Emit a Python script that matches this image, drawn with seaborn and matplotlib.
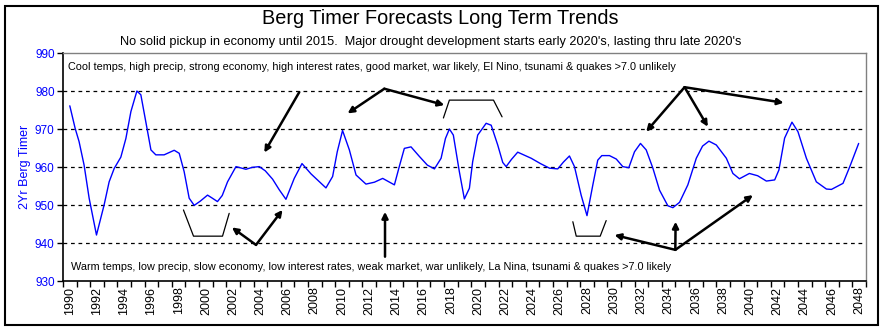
import numpy as np
import pandas as pd
import matplotlib
matplotlib.use("Agg")
import matplotlib.pyplot as plt
import seaborn as sns
from matplotlib.patches import Rectangle

# ---------------- data ----------------
years = [1990.00, 1990.39, 1990.68, 1991.05, 1991.42, 1991.96, 1992.52, 1992.89, 1993.26, 1993.75,
         1994.12, 1994.49, 1994.93, 1995.22, 1995.63, 1995.96, 1996.32, 1996.93, 1997.67, 1998.04,
         1998.40, 1998.77, 1999.14, 1999.58, 2000.12, 2000.47, 2000.85, 2001.20, 2001.59, 2002.21,
         2002.94, 2003.40, 2003.92, 2004.36, 2004.90, 2005.39, 2005.88, 2006.49, 2007.06, 2007.72,
         2008.82, 2009.31, 2009.65, 2010.04, 2010.54, 2011.03, 2011.76, 2012.38, 2012.99, 2013.85,
         2014.20, 2014.58, 2015.07, 2015.68, 2016.27, 2016.79, 2017.28, 2017.60, 2017.89, 2018.18,
         2018.62, 2018.99, 2019.36, 2019.60, 2019.97, 2020.59, 2020.96, 2021.44, 2021.81, 2022.06,
         2022.45, 2022.91, 2023.90, 2024.58, 2025.24, 2025.85, 2026.27, 2026.71, 2027.08, 2027.57,
         2028.00, 2028.43, 2028.79, 2029.09, 2029.65, 2030.15, 2030.63, 2031.07, 2031.49, 2031.93,
         2032.35, 2032.84, 2033.33, 2033.94, 2034.31, 2034.80, 2035.41, 2036.03, 2036.49, 2036.96,
         2037.50, 2038.24, 2038.72, 2039.20, 2039.93, 2040.54, 2041.18, 2041.79, 2042.10, 2042.52,
         2043.06, 2043.50, 2044.12, 2044.85, 2045.59, 2045.96, 2046.81, 2047.31, 2047.96]
timer = [976.1, 970.2, 966.7, 960.5, 951.8, 942.1, 950.0, 956.1, 959.6, 962.6,
         967.5, 974.6, 980.0, 979.0, 971.0, 964.5, 963.2, 963.2, 964.4, 963.6,
         958.8, 951.8, 949.9, 951.0, 952.6, 951.8, 950.9, 952.5, 956.1, 960.1,
         959.4, 959.9, 960.1, 959.0, 956.8, 954.0, 951.5, 957.0, 960.9, 958.2,
         954.5, 957.5, 964.0, 969.6, 964.5, 957.9, 955.5, 956.0, 957.0, 955.3,
         960.0, 964.9, 965.3, 962.8, 960.5, 959.5, 962.3, 967.5, 970.0, 968.4,
         958.8, 951.6, 954.4, 961.4, 968.4, 971.5, 971.0, 965.8, 961.2, 960.1,
         962.0, 963.9, 962.3, 960.9, 959.7, 959.5, 961.3, 962.9, 960.1, 952.6,
         947.2, 955.3, 961.8, 963.0, 963.0, 962.1, 960.1, 959.8, 964.0, 966.2,
         964.5, 959.7, 953.9, 949.8, 949.3, 950.7, 955.3, 962.3, 965.5, 966.8,
         965.8, 962.3, 958.3, 956.9, 958.3, 957.7, 956.3, 956.6, 959.2, 967.6,
         971.8, 969.3, 962.3, 956.1, 954.2, 954.1, 955.7, 960.1, 966.2]
year_labels = list(range(1990, 2049, 2))
y_ticks = [930, 940, 950, 960, 970, 980, 990]
grid_levels = [940, 950, 960, 970, 980]

title = "Berg Timer Forecasts Long Term Trends"
subtitle = ("No solid pickup in economy until 2015.  Major drought development starts early "
            "2020's, lasting thru late 2020's")
top_note = ("Cool temps, high precip, strong economy, high interest rates, good market, war likely, "
            "El Nino, tsunami & quakes >7.0 unlikely")
bottom_note = ("Warm temps, low precip, slow economy, low interest rates, weak market, war unlikely, "
               "La Nina, tsunami & quakes >7.0 likely")

df = pd.DataFrame({"year": years, "timer": timer})

# ---------------- style ----------------
sns.set_theme(style="white")
plt.rcParams["font.family"] = ["Liberation Sans", "DejaVu Sans"]

fig = plt.figure(figsize=(8.84, 3.31), dpi=100)
ax = fig.add_axes([63 / 884, 1 - 281 / 331, 803 / 884, 228 / 331])

for g in grid_levels:
    ax.axhline(g, color="black", lw=0.9, ls=(0, (3, 3)), zorder=1)

sns.lineplot(data=df, x="year", y="timer", ax=ax, color="#0000ff", lw=1.0, zorder=3)

ax.set_xlim(1989.5, 2048.5)
ax.set_ylim(930, 990)
ax.set_yticks(y_ticks)
ax.set_yticklabels([str(v) for v in y_ticks], color="#0000ff", fontsize=8.5)
ax.set_xticks(year_labels)
ax.set_xticklabels([str(v) for v in year_labels], rotation=90, fontsize=9, color="black")
ax.set_xticks(np.arange(1989.5, 2049.0, 1.0), minor=True)
ax.tick_params(axis="x", which="major", length=0, pad=4)
ax.tick_params(axis="x", which="minor", length=4, width=1, color="black", direction="out", bottom=True)
ax.tick_params(axis="y", which="major", length=4, width=1, color="black", direction="out", left=True, pad=2)
ax.set_xlabel("")
ax.set_ylabel("2Yr Berg Timer", color="#0000ff", fontsize=9)
ax.yaxis.set_label_coords(-0.040, 0.5)

for s in ["left", "bottom"]:
    ax.spines[s].set_color("black")
    ax.spines[s].set_linewidth(1.2)
for s in ["top", "right"]:
    ax.spines[s].set_color("#808080")
    ax.spines[s].set_linewidth(1.0)

# ---------------- annotations ----------------
arrows = [
    ((2006.86, 979.7), (2004.29, 963.8)),
    ((2013.11, 980.6), (2010.41, 974.1)),
    ((2013.11, 980.6), (2017.52, 976.3)),
    ((2035.17, 981.0), (2032.35, 969.3)),
    ((2035.17, 981.0), (2036.88, 970.6)),
    ((2035.17, 981.0), (2042.45, 976.9)),
    ((2003.68, 939.5), (2001.91, 944.1)),
    ((2003.68, 939.5), (2005.63, 948.7)),
    ((2013.16, 936.4), (2013.16, 948.2)),
    ((2034.49, 938.2), (2030.02, 942.1)),
    ((2034.49, 938.2), (2034.51, 945.6)),
    ((2034.49, 938.2), (2040.19, 952.6)),
]
for start, end in arrows:
    ax.annotate("", xy=end, xytext=start,
                arrowprops=dict(arrowstyle="-|>", lw=1.8, color="black",
                                mutation_scale=9, shrinkA=0, shrinkB=0),
                zorder=4)

brackets = [
    [(2017.45, 972.9), (2017.89, 977.6), (2021.13, 977.6), (2021.76, 973.2)],
    [(1998.35, 948.7), (1999.09, 941.8), (2001.22, 941.8), (2001.71, 947.8)],
    [(2026.96, 945.6), (2027.21, 941.8), (2028.97, 941.8), (2029.41, 945.9)],
]
for br in brackets:
    bx, by = zip(*br)
    ax.plot(bx, by, color="black", lw=0.9, zorder=4)

ax.text(1989.9, 986.4, top_note, fontsize=7.8, ha="left", va="center", color="black")
ax.text(1990.1, 933.6, bottom_note, fontsize=7.85, ha="left", va="center", color="black")

fig.text(440 / 884, 1 - 19 / 331, title, ha="center", va="center", fontsize=14.3, color="black")
fig.text(431 / 884, 1 - 42 / 331, subtitle, ha="center", va="center", fontsize=9.2, color="black")

fig.patches.append(Rectangle((5 / 884, 6 / 331), 873 / 884, 319 / 331, transform=fig.transFigure,
                             fill=False, edgecolor="black", lw=1.5))

fig.savefig("out.png", dpi=100)
